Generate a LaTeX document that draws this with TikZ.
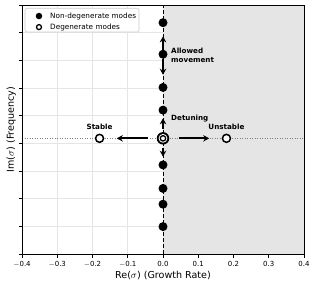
\documentclass[tikz,border=0pt]{standalone}
\usepackage{fontspec}
\setmainfont{DejaVu Sans}
\usetikzlibrary{arrows.meta}

\begin{document}
\begin{tikzpicture}[x=352.5bp,y=27.67bp,font=\fontsize{7}{8.5}\selectfont]
  \tikzstyle{mode}=[circle,fill=black,inner sep=0pt,minimum size=9bp]
  \tikzstyle{openmode}=[circle,draw=black,fill=white,line width=1.5bp,inner sep=0pt,minimum size=8bp]
  \tikzstyle{lab}=[font=\fontsize{7.2}{8.6}\selectfont\bfseries,inner sep=0pt]
  \tikzstyle{move}=[line width=1.8bp,-{Stealth[length=6bp,width=6.5bp]}]
  \useasboundingbox (-0.46241,-1.1926) rectangle (0.43688,9.1796);
  % unstable half plane and grid
  \fill[gray!20] (0,0) rectangle (0.4,9);
  \foreach \x in {-0.3,-0.2,...,0.35}
     \draw[black!10,line width=0.6bp] (\x,0) -- (\x,9);
  \foreach \y in {1,...,8}
     \draw[black!10,line width=0.6bp] (-0.4,\y) -- (0.4,\y);
  \draw[gray,line width=0.6bp,dash pattern=on 1bp off 1.5bp] (-0.4,4.18) -- (0.4,4.18);
  \draw[line width=1bp,dash pattern=on 4bp off 2bp] (0,0) -- (0,9);
  % axes
  \draw[line width=0.8bp] (-0.4,0) rectangle (0.4,9);
  \foreach \x/\t in {-0.4/$-$0.4,-0.3/$-$0.3,-0.2/$-$0.2,-0.1/$-$0.1,0/0.0,0.1/0.1,0.2/0.2,0.3/0.3,0.4/0.4} {
     \draw[line width=0.8bp] (\x,0) -- ++(0,-3.5bp);
     \node[anchor=base,inner sep=0pt] (tick\x) at (\x,-0.46) {\t};
  }
  \foreach \y in {0,...,9}
     \draw[line width=0.8bp] (-0.4,\y) -- ++(-3.5bp,0);
  \node[anchor=base,inner sep=0pt,font=\fontsize{9.6}{11}\selectfont] (xlab) at (0,-0.885) {Re($\sigma$) (Growth Rate)};
  \node[anchor=base,rotate=90,inner sep=0pt,font=\fontsize{9.6}{11}\selectfont] (ylab) at (-0.4227,4.5) {Im($\sigma$) (Frequency)};
  % modes on the imaginary axis
  \foreach \n/\y in {1/8.36,2/7.22,3/6.02,4/5.20,5/3.22,6/2.37,7/1.80,8/0.99}
     \node[mode] (m\n) at (0,\y) {};
  \node[circle,fill=black,inner sep=0pt,minimum size=12.5bp] (deg) at (0,4.18) {};
  \node[circle,fill=white,inner sep=0pt,minimum size=8.8bp] at (deg) {};
  \node[circle,draw=black,fill=white,line width=1.3bp,inner sep=0pt,minimum size=5.4bp] at (deg) {};
  \node[openmode] (st) at (-0.18,4.18) {};
  \node[openmode] (unst) at (0.18,4.18) {};
  % movements
  \draw[move,shorten >=9bp] (m2) -- (m1);
  \draw[move,shorten >=8bp] (m2) -- (m3);
  \draw[move,shorten <=3bp,shorten >=3.5bp] (deg) -- (m4);
  \draw[move,shorten <=3.5bp,shorten >=3.5bp] (deg) -- (m5);
  \draw[move,shorten <=9bp,shorten >=12.5bp] (deg) -- (st);
  \draw[move,shorten <=10bp,shorten >=12.5bp] (deg) -- (unst);
  \node[lab,anchor=west,align=left] (allowed) at (0.0227,7.19) {Allowed\\movement};
  \node[lab,anchor=base west] (detun) at (0.0227,4.84) {Detuning};
  \node[lab,anchor=base] (stlab) at (-0.18,4.5) {Stable};
  \node[lab,anchor=base] (unstlab) at (0.18,4.5) {Unstable};
  % legend
  \draw[gray!40,fill=white,rounded corners=2bp,line width=0.6bp] (-0.3915,8.023) rectangle (-0.0681,8.88);
  \node[circle,fill=black,inner sep=0pt,minimum size=6.5bp] (lg1) at (-0.3518,8.60) {};
  \node[circle,draw=black,fill=white,line width=1.3bp,inner sep=0pt,minimum size=5bp] (lg2) at (-0.3518,8.20) {};
  \node[anchor=west,inner sep=0pt,font=\fontsize{7.3}{8.5}\selectfont] (lt1) at (-0.3206,8.60) {Non-degenerate modes};
  \node[anchor=west,inner sep=0pt,font=\fontsize{7.3}{8.5}\selectfont] (lt2) at (-0.3206,8.20) {Degenerate modes};
\end{tikzpicture}
\end{document}
